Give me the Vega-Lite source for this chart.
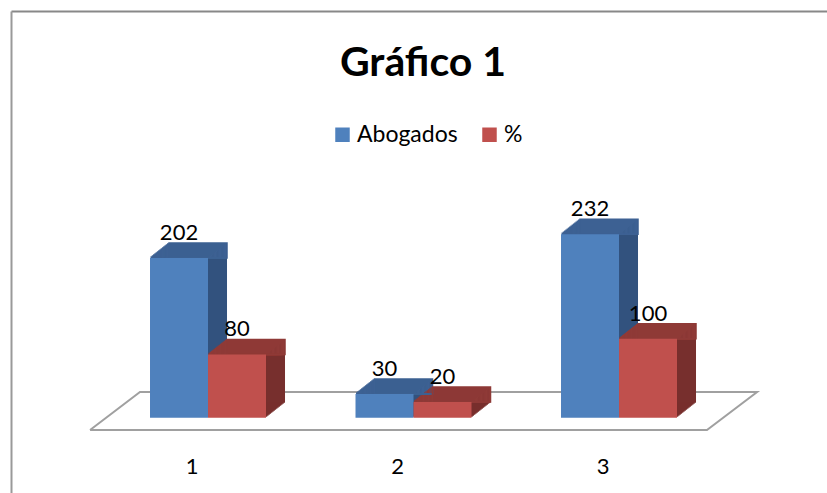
{
  "$schema": "https://vega.github.io/schema/vega-lite/v6.json",
  "width": 816,
  "height": 482,
  "autosize": {"type": "none"},
  "padding": {"left": 11, "top": 11, "right": 0, "bottom": 0},
  "background": "white",
  "title": {
    "text": "Gráfico 1",
    "font": "Lato",
    "fontSize": 41,
    "fontWeight": "bold",
    "color": "#000000",
    "anchor": "middle",
    "baseline": "alphabetic",
    "offset": 0,
    "dx": 4,
    "dy": 106
  },
  "config": {"view": {"stroke": null}, "font": "Lato"},
  "encoding": {
    "y": {
      "field": "v",
      "type": "quantitative",
      "title": null,
      "scale": {"domain": [-95, 514], "nice": false, "zero": true},
      "axis": {"domain": true, "domainColor": "#999999", "domainWidth": 2, "labels": false, "ticks": false, "grid": false, "title": null}
    }
  },
  "layer": [
    {
      "data": {"values": [
        {"fx": 0.426, "v": -15.4, "o": 1},
        {"fx": 3.428, "v": -15.4, "o": 2},
        {"fx": 3.672, "v": 32.6, "o": 3},
        {"fx": 0.669, "v": 32.6, "o": 4},
        {"fx": 0.426, "v": -15.4, "o": 5}
      ]},
      "mark": {"type": "line", "stroke": "#a0a0a0", "strokeWidth": 2},
      "encoding": {
        "x": {
          "field": "fx",
          "type": "quantitative",
          "scale": {"domain": [0.04136, 4.01217], "nice": false, "zero": false},
          "axis": {"orient": "top", "domain": true, "domainColor": "#888888", "domainWidth": 2, "labels": false, "ticks": false, "grid": false, "title": null}
        },
        "order": {"field": "o", "type": "quantitative"}
      }
    },
    {
      "data": {"values": [
        {"g": 1, "s": "Abogados", "v": 202},
        {"g": 1, "s": "%", "v": 80},
        {"g": 2, "s": "Abogados", "v": 30},
        {"g": 2, "s": "%", "v": 20},
        {"g": 3, "s": "Abogados", "v": 232},
        {"g": 3, "s": "%", "v": 100}
      ]},
      "encoding": {
        "x": {
          "field": "g",
          "type": "ordinal",
          "scale": {"paddingInner": 0.43552, "paddingOuter": 0.70316, "align": 0.481, "round": false},
          "axis": {"orient": "bottom", "domain": false, "ticks": false, "tickSize": 0, "grid": false, "title": null, "labelAngle": 0, "labelFont": "Lato", "labelFontSize": 22, "labelColor": "#000000", "labelOffset": -16, "labelPadding": -20, "labelBaseline": "alphabetic"}
        },
        "xOffset": {"field": "s", "type": "nominal", "scale": {"domain": ["Abogados", "%"], "paddingInner": 0, "paddingOuter": 0}}
      },
      "layer": [
        {"mark": {"type": "bar", "yOffset": -1}, "encoding": {"xOffset": {"field": "s", "type": "nominal", "scale": {"domain": ["Abogados", "%"], "range": [1.27, 117.27], "paddingInner": 0, "paddingOuter": 0}}, "fill": {"condition": {"test": "datum.s === 'Abogados'", "value": "#32527e"}, "value": "#772f2d"}}},
        {"mark": {"type": "bar", "yOffset": -2}, "encoding": {"xOffset": {"field": "s", "type": "nominal", "scale": {"domain": ["Abogados", "%"], "range": [2.53, 118.53], "paddingInner": 0, "paddingOuter": 0}}, "fill": {"condition": {"test": "datum.s === 'Abogados'", "value": "#32527e"}, "value": "#772f2d"}}},
        {"mark": {"type": "bar", "yOffset": -3}, "encoding": {"xOffset": {"field": "s", "type": "nominal", "scale": {"domain": ["Abogados", "%"], "range": [3.8, 119.8], "paddingInner": 0, "paddingOuter": 0}}, "fill": {"condition": {"test": "datum.s === 'Abogados'", "value": "#32527e"}, "value": "#772f2d"}}},
        {"mark": {"type": "bar", "yOffset": -4}, "encoding": {"xOffset": {"field": "s", "type": "nominal", "scale": {"domain": ["Abogados", "%"], "range": [5.07, 121.07], "paddingInner": 0, "paddingOuter": 0}}, "fill": {"condition": {"test": "datum.s === 'Abogados'", "value": "#32527e"}, "value": "#772f2d"}}},
        {"mark": {"type": "bar", "yOffset": -5}, "encoding": {"xOffset": {"field": "s", "type": "nominal", "scale": {"domain": ["Abogados", "%"], "range": [6.33, 122.33], "paddingInner": 0, "paddingOuter": 0}}, "fill": {"condition": {"test": "datum.s === 'Abogados'", "value": "#32527e"}, "value": "#772f2d"}}},
        {"mark": {"type": "bar", "yOffset": -6}, "encoding": {"xOffset": {"field": "s", "type": "nominal", "scale": {"domain": ["Abogados", "%"], "range": [7.6, 123.6], "paddingInner": 0, "paddingOuter": 0}}, "fill": {"condition": {"test": "datum.s === 'Abogados'", "value": "#32527e"}, "value": "#772f2d"}}},
        {"mark": {"type": "bar", "yOffset": -7}, "encoding": {"xOffset": {"field": "s", "type": "nominal", "scale": {"domain": ["Abogados", "%"], "range": [8.87, 124.87], "paddingInner": 0, "paddingOuter": 0}}, "fill": {"condition": {"test": "datum.s === 'Abogados'", "value": "#32527e"}, "value": "#772f2d"}}},
        {"mark": {"type": "bar", "yOffset": -8}, "encoding": {"xOffset": {"field": "s", "type": "nominal", "scale": {"domain": ["Abogados", "%"], "range": [10.13, 126.13], "paddingInner": 0, "paddingOuter": 0}}, "fill": {"condition": {"test": "datum.s === 'Abogados'", "value": "#32527e"}, "value": "#772f2d"}}},
        {"mark": {"type": "bar", "yOffset": -9}, "encoding": {"xOffset": {"field": "s", "type": "nominal", "scale": {"domain": ["Abogados", "%"], "range": [11.4, 127.4], "paddingInner": 0, "paddingOuter": 0}}, "fill": {"condition": {"test": "datum.s === 'Abogados'", "value": "#32527e"}, "value": "#772f2d"}}},
        {"mark": {"type": "bar", "yOffset": -10}, "encoding": {"xOffset": {"field": "s", "type": "nominal", "scale": {"domain": ["Abogados", "%"], "range": [12.67, 128.67], "paddingInner": 0, "paddingOuter": 0}}, "fill": {"condition": {"test": "datum.s === 'Abogados'", "value": "#32527e"}, "value": "#772f2d"}}},
        {"mark": {"type": "bar", "yOffset": -11}, "encoding": {"xOffset": {"field": "s", "type": "nominal", "scale": {"domain": ["Abogados", "%"], "range": [13.93, 129.93], "paddingInner": 0, "paddingOuter": 0}}, "fill": {"condition": {"test": "datum.s === 'Abogados'", "value": "#32527e"}, "value": "#772f2d"}}},
        {"mark": {"type": "bar", "yOffset": -12}, "encoding": {"xOffset": {"field": "s", "type": "nominal", "scale": {"domain": ["Abogados", "%"], "range": [15.2, 131.2], "paddingInner": 0, "paddingOuter": 0}}, "fill": {"condition": {"test": "datum.s === 'Abogados'", "value": "#32527e"}, "value": "#772f2d"}}},
        {"mark": {"type": "bar", "yOffset": -13}, "encoding": {"xOffset": {"field": "s", "type": "nominal", "scale": {"domain": ["Abogados", "%"], "range": [16.47, 132.47], "paddingInner": 0, "paddingOuter": 0}}, "fill": {"condition": {"test": "datum.s === 'Abogados'", "value": "#32527e"}, "value": "#772f2d"}}},
        {"mark": {"type": "bar", "yOffset": -14}, "encoding": {"xOffset": {"field": "s", "type": "nominal", "scale": {"domain": ["Abogados", "%"], "range": [17.73, 133.73], "paddingInner": 0, "paddingOuter": 0}}, "fill": {"condition": {"test": "datum.s === 'Abogados'", "value": "#32527e"}, "value": "#772f2d"}}},
        {"mark": {"type": "bar", "yOffset": -15}, "encoding": {"xOffset": {"field": "s", "type": "nominal", "scale": {"domain": ["Abogados", "%"], "range": [19, 135], "paddingInner": 0, "paddingOuter": 0}}, "fill": {"condition": {"test": "datum.s === 'Abogados'", "value": "#32527e"}, "value": "#772f2d"}}},
        {"mark": {"type": "bar", "yOffset": -1, "strokeWidth": 1.5, "fillOpacity": 0}, "encoding": {"xOffset": {"field": "s", "type": "nominal", "scale": {"domain": ["Abogados", "%"], "range": [1.27, 117.27], "paddingInner": 0, "paddingOuter": 0}}, "y2": {"field": "v"}, "stroke": {"condition": {"test": "datum.s === 'Abogados'", "value": "#3d6193"}, "value": "#8f3a37"}}},
        {"mark": {"type": "bar", "yOffset": -2, "strokeWidth": 1.5, "fillOpacity": 0}, "encoding": {"xOffset": {"field": "s", "type": "nominal", "scale": {"domain": ["Abogados", "%"], "range": [2.53, 118.53], "paddingInner": 0, "paddingOuter": 0}}, "y2": {"field": "v"}, "stroke": {"condition": {"test": "datum.s === 'Abogados'", "value": "#3d6193"}, "value": "#8f3a37"}}},
        {"mark": {"type": "bar", "yOffset": -3, "strokeWidth": 1.5, "fillOpacity": 0}, "encoding": {"xOffset": {"field": "s", "type": "nominal", "scale": {"domain": ["Abogados", "%"], "range": [3.8, 119.8], "paddingInner": 0, "paddingOuter": 0}}, "y2": {"field": "v"}, "stroke": {"condition": {"test": "datum.s === 'Abogados'", "value": "#3d6193"}, "value": "#8f3a37"}}},
        {"mark": {"type": "bar", "yOffset": -4, "strokeWidth": 1.5, "fillOpacity": 0}, "encoding": {"xOffset": {"field": "s", "type": "nominal", "scale": {"domain": ["Abogados", "%"], "range": [5.07, 121.07], "paddingInner": 0, "paddingOuter": 0}}, "y2": {"field": "v"}, "stroke": {"condition": {"test": "datum.s === 'Abogados'", "value": "#3d6193"}, "value": "#8f3a37"}}},
        {"mark": {"type": "bar", "yOffset": -5, "strokeWidth": 1.5, "fillOpacity": 0}, "encoding": {"xOffset": {"field": "s", "type": "nominal", "scale": {"domain": ["Abogados", "%"], "range": [6.33, 122.33], "paddingInner": 0, "paddingOuter": 0}}, "y2": {"field": "v"}, "stroke": {"condition": {"test": "datum.s === 'Abogados'", "value": "#3d6193"}, "value": "#8f3a37"}}},
        {"mark": {"type": "bar", "yOffset": -6, "strokeWidth": 1.5, "fillOpacity": 0}, "encoding": {"xOffset": {"field": "s", "type": "nominal", "scale": {"domain": ["Abogados", "%"], "range": [7.6, 123.6], "paddingInner": 0, "paddingOuter": 0}}, "y2": {"field": "v"}, "stroke": {"condition": {"test": "datum.s === 'Abogados'", "value": "#3d6193"}, "value": "#8f3a37"}}},
        {"mark": {"type": "bar", "yOffset": -7, "strokeWidth": 1.5, "fillOpacity": 0}, "encoding": {"xOffset": {"field": "s", "type": "nominal", "scale": {"domain": ["Abogados", "%"], "range": [8.87, 124.87], "paddingInner": 0, "paddingOuter": 0}}, "y2": {"field": "v"}, "stroke": {"condition": {"test": "datum.s === 'Abogados'", "value": "#3d6193"}, "value": "#8f3a37"}}},
        {"mark": {"type": "bar", "yOffset": -8, "strokeWidth": 1.5, "fillOpacity": 0}, "encoding": {"xOffset": {"field": "s", "type": "nominal", "scale": {"domain": ["Abogados", "%"], "range": [10.13, 126.13], "paddingInner": 0, "paddingOuter": 0}}, "y2": {"field": "v"}, "stroke": {"condition": {"test": "datum.s === 'Abogados'", "value": "#3d6193"}, "value": "#8f3a37"}}},
        {"mark": {"type": "bar", "yOffset": -9, "strokeWidth": 1.5, "fillOpacity": 0}, "encoding": {"xOffset": {"field": "s", "type": "nominal", "scale": {"domain": ["Abogados", "%"], "range": [11.4, 127.4], "paddingInner": 0, "paddingOuter": 0}}, "y2": {"field": "v"}, "stroke": {"condition": {"test": "datum.s === 'Abogados'", "value": "#3d6193"}, "value": "#8f3a37"}}},
        {"mark": {"type": "bar", "yOffset": -10, "strokeWidth": 1.5, "fillOpacity": 0}, "encoding": {"xOffset": {"field": "s", "type": "nominal", "scale": {"domain": ["Abogados", "%"], "range": [12.67, 128.67], "paddingInner": 0, "paddingOuter": 0}}, "y2": {"field": "v"}, "stroke": {"condition": {"test": "datum.s === 'Abogados'", "value": "#3d6193"}, "value": "#8f3a37"}}},
        {"mark": {"type": "bar", "yOffset": -11, "strokeWidth": 1.5, "fillOpacity": 0}, "encoding": {"xOffset": {"field": "s", "type": "nominal", "scale": {"domain": ["Abogados", "%"], "range": [13.93, 129.93], "paddingInner": 0, "paddingOuter": 0}}, "y2": {"field": "v"}, "stroke": {"condition": {"test": "datum.s === 'Abogados'", "value": "#3d6193"}, "value": "#8f3a37"}}},
        {"mark": {"type": "bar", "yOffset": -12, "strokeWidth": 1.5, "fillOpacity": 0}, "encoding": {"xOffset": {"field": "s", "type": "nominal", "scale": {"domain": ["Abogados", "%"], "range": [15.2, 131.2], "paddingInner": 0, "paddingOuter": 0}}, "y2": {"field": "v"}, "stroke": {"condition": {"test": "datum.s === 'Abogados'", "value": "#3d6193"}, "value": "#8f3a37"}}},
        {"mark": {"type": "bar", "yOffset": -13, "strokeWidth": 1.5, "fillOpacity": 0}, "encoding": {"xOffset": {"field": "s", "type": "nominal", "scale": {"domain": ["Abogados", "%"], "range": [16.47, 132.47], "paddingInner": 0, "paddingOuter": 0}}, "y2": {"field": "v"}, "stroke": {"condition": {"test": "datum.s === 'Abogados'", "value": "#3d6193"}, "value": "#8f3a37"}}},
        {"mark": {"type": "bar", "yOffset": -14, "strokeWidth": 1.5, "fillOpacity": 0}, "encoding": {"xOffset": {"field": "s", "type": "nominal", "scale": {"domain": ["Abogados", "%"], "range": [17.73, 133.73], "paddingInner": 0, "paddingOuter": 0}}, "y2": {"field": "v"}, "stroke": {"condition": {"test": "datum.s === 'Abogados'", "value": "#3d6193"}, "value": "#8f3a37"}}},
        {"mark": {"type": "bar", "yOffset": -15, "strokeWidth": 1.5, "fillOpacity": 0}, "encoding": {"xOffset": {"field": "s", "type": "nominal", "scale": {"domain": ["Abogados", "%"], "range": [19, 135], "paddingInner": 0, "paddingOuter": 0}}, "y2": {"field": "v"}, "stroke": {"condition": {"test": "datum.s === 'Abogados'", "value": "#3d6193"}, "value": "#8f3a37"}}},
        {
          "mark": {"type": "bar"},
          "encoding": {
            "color": {
              "field": "s",
              "type": "nominal",
              "scale": {"domain": ["Abogados", "%"], "range": ["#4f81bd", "#c0504d"]},
              "legend": {"orient": "none", "legendX": 320, "legendY": 112, "direction": "horizontal", "title": null, "symbolType": "square", "symbolSize": 210, "symbolStrokeWidth": 0, "labelFont": "Lato", "labelFontSize": 23, "labelColor": "#000000", "labelOffset": 3, "columnPadding": 20, "padding": 0}
            }
          }
        },
        {
          "mark": {"type": "text", "baseline": "alphabetic", "align": "center", "dy": -18, "font": "Lato", "fontSize": 22, "color": "#000000"},
          "encoding": {
            "xOffset": {"field": "s", "type": "nominal", "scale": {"type": "point", "domain": ["Abogados", "%"], "range": [29, 87], "padding": 0}},
            "text": {"field": "v", "type": "quantitative"}
          }
        }
      ],
      "resolve": {"scale": {"xOffset": "independent"}}
    }
  ],
  "resolve": {"scale": {"x": "independent"}}
}
